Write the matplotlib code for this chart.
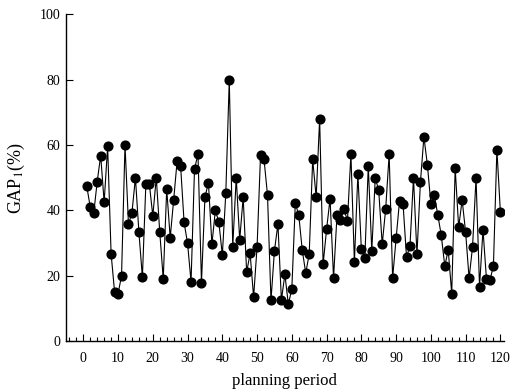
import matplotlib
matplotlib.use('Agg')
import matplotlib.pyplot as plt
from matplotlib.ticker import MultipleLocator

plt.rcParams['font.family'] = ['Liberation Serif', 'DejaVu Serif']
plt.rcParams['mathtext.fontset'] = 'stix'

# planning periods 1..120 and GAP1 values
periods = list(range(1, 121))
gap = [
    47.4, 41.0, 39.1, 48.8, 56.8, 42.5, 59.6, 26.7, 15.0, 14.5,
    19.9, 60.1, 35.7, 39.3, 50.0, 33.3, 19.5, 48.1, 48.1, 38.3,
    50.0, 33.3, 19.0, 46.5, 31.6, 43.2, 55.2, 53.6, 36.3, 29.9,
    18.1, 52.7, 57.2, 17.8, 44.0, 48.5, 29.6, 40.0, 36.4, 26.3,
    45.2, 80.0, 28.9, 50.0, 31.0, 44.0, 21.1, 26.8, 13.4, 28.8,
    57.1, 55.6, 44.7, 12.4, 27.7, 35.8, 12.5, 20.4, 11.2, 16.0,
    42.2, 38.5, 27.8, 20.8, 26.6, 55.6, 44.0, 68.0, 23.5, 34.2,
    43.6, 19.3, 38.6, 36.9, 40.4, 36.8, 57.2, 24.1, 51.2, 28.2,
    25.5, 53.6, 27.6, 50.0, 46.1, 29.6, 40.4, 57.2, 19.3, 31.4,
    43.0, 42.0, 25.6, 29.2, 50.0, 26.5, 48.7, 62.5, 54.0, 42.0,
    44.6, 38.6, 32.3, 23.0, 27.8, 14.5, 52.9, 34.8, 43.2, 33.3,
    19.2, 28.9, 50.0, 16.6, 34.1, 18.9, 18.6, 23.0, 58.6, 39.6,
]

x_ticks = list(range(0, 121, 10))
y_ticks = list(range(0, 101, 20))

fig = plt.figure(figsize=(5.11, 3.91), dpi=100)
ax = fig.add_axes([0.129, 0.128, 0.857, 0.835])

ax.plot(periods, gap, color='black', linewidth=0.8, marker='o',
        markersize=6.3, markerfacecolor='black', markeredgecolor='black')

ax.set_xlim(-5, 121)
ax.set_ylim(0, 100)
ax.set_xticks(x_ticks)
ax.set_yticks(y_ticks)
ax.xaxis.set_minor_locator(MultipleLocator(2))

for side in ['top', 'right']:
    ax.spines[side].set_visible(False)
for side in ['left', 'bottom']:
    ax.spines[side].set_linewidth(1.0)

ax.tick_params(axis='x', which='major', direction='in', length=5, width=0.8,
               labelsize=10, pad=8)
ax.tick_params(axis='x', which='minor', direction='in', length=3, width=0.8)
ax.tick_params(axis='y', which='major', direction='in', length=5, width=0.8,
               labelsize=10, pad=4)

ax.set_xlabel('planning period', fontsize=12, labelpad=6)
ax.set_ylabel('GAP$_1$(%)', fontsize=13, labelpad=9)

fig.savefig('out.png', dpi=100)
